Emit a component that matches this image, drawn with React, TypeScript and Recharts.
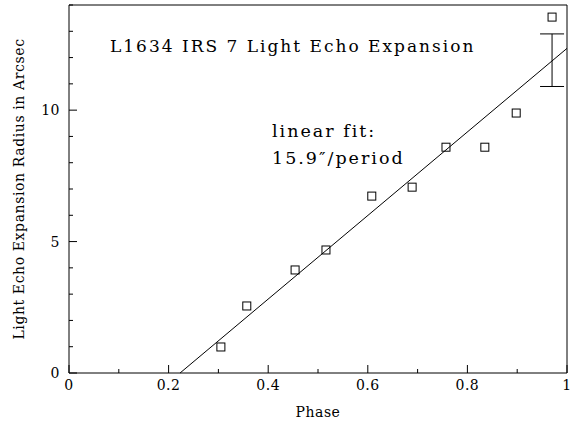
import { ComposedChart, Scatter, XAxis, YAxis, ReferenceLine, ErrorBar } from 'recharts';

// measured light echo radii (arcsec) vs phase
const phase = [0.305, 0.357, 0.454, 0.516, 0.608, 0.689, 0.757, 0.835, 0.898, 0.97];
const radius = [0.99, 2.55, 3.92, 4.68, 6.73, 7.07, 8.59, 8.59, 9.89, 13.54];

// typical error bar
const errX = [0.97];
const errY = [11.9];
const errSize = [1.0];

// linear fit end points (15.9"/period)
const fitX = [0.223, 1];
const fitY = [0, 12.35];

const xTicks = [0, 0.1, 0.2, 0.3, 0.4, 0.5, 0.6, 0.7, 0.8, 0.9, 1];
const yTicks = [0, 1, 2, 3, 4, 5, 6, 7, 8, 9, 10, 11, 12, 13, 14];

const points = phase.map((p, i) => ({ x: p, y: radius[i] }));
const errData = errX.map((p, i) => ({ x: p, y: errY[i], err: errSize[i] }));

const FONT = '"DejaVu Serif", serif';

const isMajorX = (v: number) => Math.round(v * 10) % 2 === 0;
const isMajorY = (v: number) => v % 5 === 0;

const BottomTick = (props: any) => {
    const { x, y, payload } = props;
    const major = isMajorX(payload.value);
    return (
        <g>
            <line x1={x} y1={y} x2={x} y2={y - (major ? 8 : 4)} stroke="#000" />
            {major && (
                <text x={x} y={y + 17} textAnchor="middle" fontSize={14} fontFamily={FONT} fill="#000" letterSpacing={0.5}>
                    {String(payload.value)}
                </text>
            )}
        </g>
    );
};

const TopTick = (props: any) => {
    const { x, y, payload } = props;
    const major = isMajorX(payload.value);
    return <line x1={x} y1={y} x2={x} y2={y + (major ? 8 : 4)} stroke="#000" />;
};

const LeftTick = (props: any) => {
    const { x, y, payload } = props;
    const major = isMajorY(payload.value);
    return (
        <g>
            <line x1={x} y1={y} x2={x + (major ? 8 : 4)} y2={y} stroke="#000" />
            {major && (
                <text x={x - 9} y={y + 5} textAnchor="end" fontSize={14} fontFamily={FONT} fill="#000" letterSpacing={0.5}>
                    {String(payload.value)}
                </text>
            )}
        </g>
    );
};

const RightTick = (props: any) => {
    const { x, y, payload } = props;
    const major = isMajorY(payload.value);
    return <line x1={x} y1={y} x2={x - (major ? 8 : 4)} y2={y} stroke="#000" />;
};

const SquareMarker = (props: any) => {
    const { cx, cy } = props;
    return <rect x={cx - 4} y={cy - 4} width={8} height={8} fill="none" stroke="#000" strokeWidth={1} />;
};

const YLabel = (props: any) => {
    const { viewBox } = props;
    const cx = 20;
    const cy = viewBox.y + viewBox.height / 2;
    return (
        <text x={cx} y={cy} transform={`rotate(-90 ${cx} ${cy})`} textAnchor="middle" dominantBaseline="middle"
            fontSize={14} fontFamily={FONT} fill="#000" letterSpacing={0.6}>
            Light Echo Expansion Radius in Arcsec
        </text>
    );
};

const App = () => {
    return (
        <div style={{ position: 'relative', width: 574, height: 423, background: '#fff' }}>
            <style>{`body{margin:0}`}</style>
            <ComposedChart width={574} height={423} margin={{ top: 4, right: 6, left: 0, bottom: 0 }}>
                <XAxis
                    dataKey="x"
                    type="number"
                    domain={[0, 1]}
                    ticks={xTicks}
                    interval={0}
                    tickSize={0}
                    tickMargin={0}
                    tick={<BottomTick />}
                    axisLine={{ stroke: '#000' }}
                    height={50}
                    label={{ value: 'Phase', position: 'insideBottom', offset: 6, fontSize: 14, fontFamily: FONT, fill: '#000', letterSpacing: 0.5 }}
                />
                <XAxis
                    xAxisId="top"
                    orientation="top"
                    dataKey="x"
                    type="number"
                    domain={[0, 1]}
                    ticks={xTicks}
                    interval={0}
                    tickSize={0}
                    tickMargin={0}
                    tick={<TopTick />}
                    axisLine={{ stroke: '#000' }}
                    height={1}
                />
                <YAxis
                    type="number"
                    domain={[0, 14]}
                    ticks={yTicks}
                    interval={0}
                    tickSize={0}
                    tickMargin={0}
                    tick={<LeftTick />}
                    axisLine={{ stroke: '#000' }}
                    width={69}
                    label={<YLabel />}
                />
                <YAxis
                    yAxisId="right"
                    orientation="right"
                    type="number"
                    domain={[0, 14]}
                    ticks={yTicks}
                    interval={0}
                    tickSize={0}
                    tickMargin={0}
                    tick={<RightTick />}
                    axisLine={{ stroke: '#000' }}
                    width={1}
                />
                <ReferenceLine
                    segment={[{ x: fitX[0], y: fitY[0] }, { x: fitX[1], y: fitY[1] }]}
                    stroke="#000"
                    strokeWidth={1}
                    ifOverflow="visible"
                />
                <Scatter data={points} dataKey="y" shape={<SquareMarker />} isAnimationActive={false} />
                <Scatter data={errData} dataKey="y" shape={() => <g />} isAnimationActive={false}>
                    <ErrorBar dataKey="err" direction="y" width={12} stroke="#000" strokeWidth={1} />
                </Scatter>
            </ComposedChart>
            <div style={{ position: 'absolute', left: 110, top: 36, fontFamily: FONT, fontSize: 17, letterSpacing: 2, color: '#000', whiteSpace: 'nowrap' }}>
                L1634 IRS 7 Light Echo Expansion
            </div>
            <div style={{ position: 'absolute', left: 272, top: 118, fontFamily: FONT, fontSize: 17.5, letterSpacing: 2, lineHeight: '27px', color: '#000', whiteSpace: 'nowrap' }}>
                linear fit:
                <br />
                15.9″/period
            </div>
        </div>
    );
};

export default App;
